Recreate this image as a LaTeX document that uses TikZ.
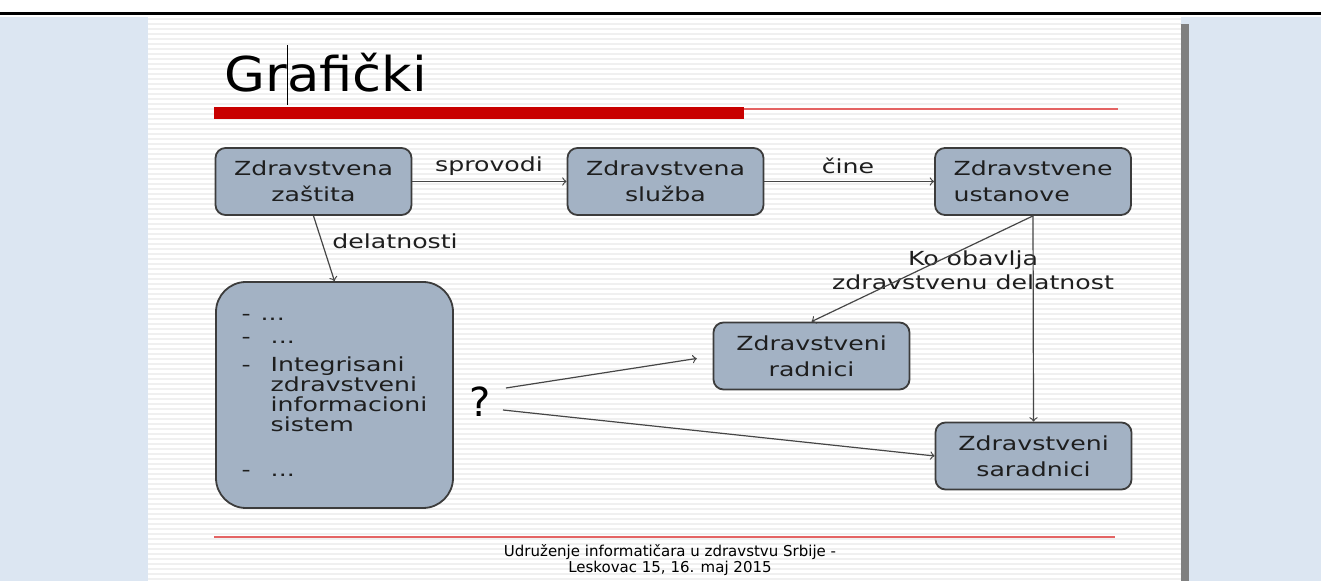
\documentclass[tikz,border=0pt]{standalone}
\usepackage{fontspec}
\setmainfont{DejaVu Sans}[FakeStretch=1.3]
\newfontfamily\titlefont{DejaVu Sans}[FakeStretch=1.1]
\newfontfamily\footfont{DejaVu Sans}
\usetikzlibrary{%
  arrows,%
  positioning,%
  shapes.misc%
}
\definecolor{slideblue}{RGB}{220,230,242}
\definecolor{boxfill}{RGB}{163,178,196}
\definecolor{boxline}{RGB}{60,60,60}
\definecolor{barred}{RGB}{200,0,0}
\definecolor{thinred}{RGB}{228,100,100}
\definecolor{arrowgray}{RGB}{70,70,70}
\definecolor{inkgray}{RGB}{30,30,30}

\begin{document}
\begin{tikzpicture}
[x=0.5pt, y=-0.5pt, >=to,
box/.style={rectangle, rounded corners=5pt, draw=boxline, fill=boxfill, line width=0.9pt, minimum width=98pt, minimum height=33.5pt, inner sep=0pt, align=center, text=inkgray, font=\fontsize{9.7}{13}\selectfont},
bigbox/.style={box, rounded corners=15pt, minimum width=118.5pt, minimum height=113pt, align=left, font=\fontsize{9.7}{10}\selectfont},
conn/.style={->, draw=arrowgray, line width=0.6pt},
lbl/.style={inner sep=0pt, align=center, text=inkgray, font=\fontsize{9.7}{12}\selectfont},
stripe/.style={draw=black!6, line width=1pt}]

\useasboundingbox (0,0) rectangle (1321,581);

% background of the screenshot
\fill[black] (0,12) rectangle (1321,15.5);
\fill[slideblue] (0,17) rectangle (1321,581);
\fill[white] (148,17) rectangle (1181,581);
\foreach \y in {19,24,...,579}
  \draw[stripe] (148,\y) -- (1181,\y);
\fill[black!50] (1181,24) rectangle (1189,581);

% title
\node[anchor=base west, inner sep=0pt, font=\titlefont\fontsize{24}{28}\selectfont] (title) at (224,92) {Grafički};
\draw[line width=0.5pt] (287,45) -- (287,105);
\fill[barred] (214,107) rectangle (744,119);
\draw[thinred, line width=0.8pt] (744,109) -- (1118,109);

% boxes
\node[box] (zastita) at (313.5,181.5) {Zdravstvena\\zaštita};
\node[box] (sluzba) at (665.5,181.5) {Zdravstvena\\služba};
\node[box, align=left] (ustanove) at (1033,181.5) {Zdravstvene\\ustanove};
\node[box] (radnici) at (811.5,356) {Zdravstveni\\radnici};
\node[box] (saradnici) at (1033.5,456) {Zdravstveni\\saradnici};
\node[bigbox] (delatnost) at (334.5,395) {%
\makebox[9.5pt][l]{-}...\\[1.5pt]
\makebox[14.5pt][l]{-}...\\[4pt]
\makebox[14.5pt][l]{-}Integrisani\\
\hspace*{14.5pt}zdravstveni\\
\hspace*{14.5pt}informacioni\\
\hspace*{14.5pt}sistem\\[12.5pt]
\makebox[14.5pt][l]{-}...};

\node[inner sep=0pt, font=\footfont\fontsize{20}{24}\selectfont] (upit) at (480,402) {?};

% labels
\node[lbl] (sprovodi) at (489,166) {sprovodi};
\node[lbl] (cine) at (848,166) {čine};
\node[lbl, anchor=west] (delatnosti) at (332,241) {delatnosti};
\node[lbl] (ko) at (973,270) {Ko obavlja\\zdravstvenu delatnost};

% connectors
\draw[conn] (zastita) -- (sluzba);
\draw[conn] (sluzba) -- (ustanove);
\draw[conn] (zastita.south) -- (delatnost.north);
\draw[conn] (ustanove.south) -- (radnici.north);
\draw[conn] (ustanove.south) -- (saradnici.north);
\draw[conn, shorten >=8pt] ([xshift=7.5pt,yshift=7pt]upit.east) -- (radnici.west);
\draw[conn] ([xshift=6pt,yshift=-4pt]upit.east) -- (saradnici.west);

% footer
\draw[thinred, line width=0.8pt] (214,537) -- (1115,537);
\node[inner sep=0pt, align=center, font=\footfont\fontsize{7.5}{8}\selectfont] (footer) at (670,560) {Udruženje informatičara u zdravstvu Srbije -\\Leskovac 15, 16. maj 2015};

\end{tikzpicture}
\end{document}
